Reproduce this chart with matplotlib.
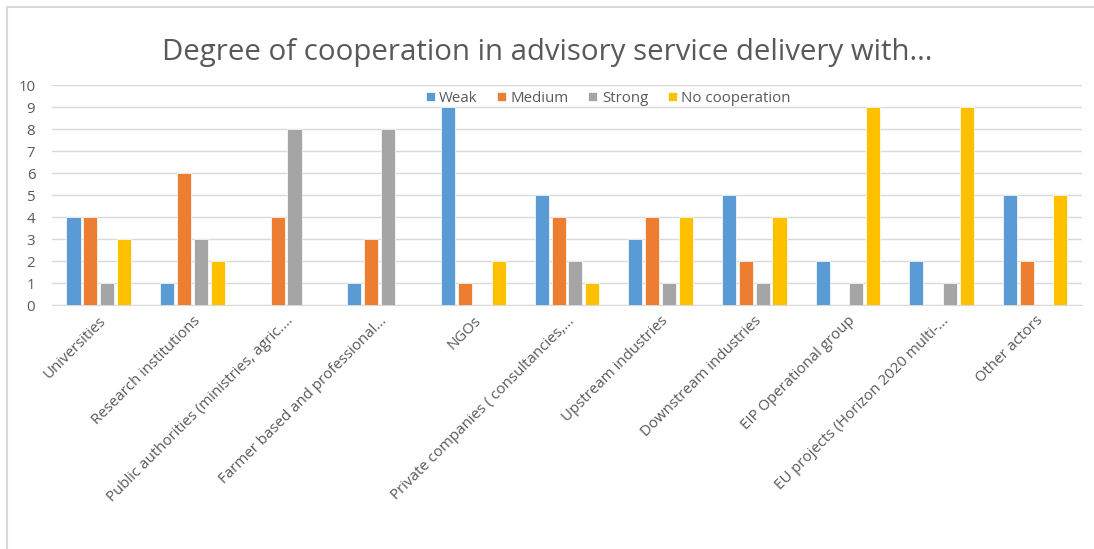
import matplotlib.pyplot as plt
import numpy as np

# Данные
categories = [
    "Universities",
    "Research institutions",
    "Public authorities (ministries, agric....",
    "Farmer based and professional...",
    "NGOs",
    "Private companies ( consultancies,...",
    "Upstream industries",
    "Downstream industries",
    "EIP Operational group",
    "EU projects (Horizon 2020 multi-...",
    "Other actors",
]
weak = [4, 1, 0, 1, 9, 5, 3, 5, 2, 2, 5]
medium = [4, 6, 4, 3, 1, 4, 4, 2, 0, 0, 2]
strong = [1, 3, 8, 8, 0, 2, 1, 1, 1, 1, 0]
no_coop = [3, 2, 0, 0, 2, 1, 4, 4, 9, 9, 5]

series_names = ["Weak", "Medium", "Strong", "No cooperation"]
colors = ["#5b9bd5", "#ed7d31", "#a5a5a5", "#ffc000"]

plt.rcParams['font.family'] = ['Open Sans', 'DejaVu Sans']
text_color = "#595959"

fig = plt.figure(figsize=(10.94, 5.49), dpi=100)
ax = fig.add_axes([0.0475, 0.4444, 0.9415, 0.4006])

x = np.arange(len(categories))
width = 0.15
pitch = 0.18
for i, (vals, name, col) in enumerate(zip([weak, medium, strong, no_coop], series_names, colors)):
    ax.bar(x + (i - 1.5) * pitch, vals, width, color=col, label=name,
           edgecolor="white", linewidth=0.5, zorder=3)

ax.set_xlim(-0.5, len(categories) - 0.5)
ax.set_ylim(0, 10)
ax.set_yticks(range(0, 11))
ax.yaxis.grid(True, color="#d9d9d9", linewidth=1, zorder=0)
for s in ["top", "right", "left"]:
    ax.spines[s].set_visible(False)
ax.spines["bottom"].set_color("#d9d9d9")
ax.tick_params(axis="both", length=0, colors=text_color, labelsize=10.8)
ax.tick_params(axis="y", pad=12)
ax.tick_params(axis="x", pad=6)
ax.set_xticks(x)
ax.set_xticklabels(categories, rotation=45, ha="right", rotation_mode="anchor")

ax.legend(loc="upper center", bbox_to_anchor=(0.54, 1.035), ncol=4, frameon=False,
          fontsize=10.8, labelcolor=text_color, handlelength=0.6, handleheight=0.6,
          handletextpad=0.3, columnspacing=1.3)

fig.suptitle("Degree of cooperation in advisory service delivery with...",
             x=0.5, y=0.93, fontsize=21.2, color=text_color)

# рамка области диаграммы
fig.add_artist(plt.Rectangle((7 / 1094, -0.1), 1.2, 1.1 - 7 / 549, transform=fig.transFigure,
                             fill=False, edgecolor="#d9d9d9", linewidth=1.5))

fig.savefig("out.png", dpi=100)
